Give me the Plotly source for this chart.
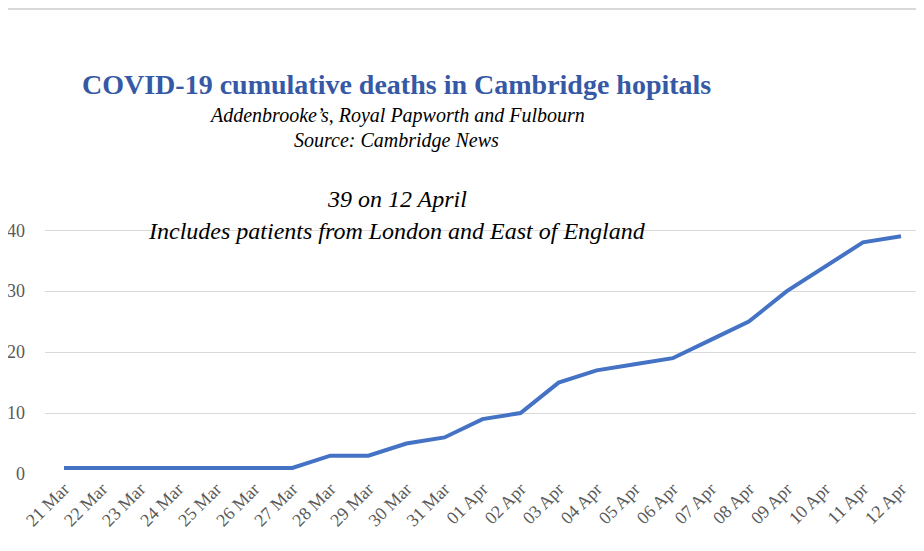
import plotly.graph_objects as go

# Cumulative COVID-19 deaths, Cambridge hospitals
dates = [
    '21 Mar', '22 Mar', '23 Mar', '24 Mar', '25 Mar', '26 Mar', '27 Mar',
    '28 Mar', '29 Mar', '30 Mar', '31 Mar', '01 Apr', '02 Apr', '03 Apr',
    '04 Apr', '05 Apr', '06 Apr', '07 Apr', '08 Apr', '09 Apr', '10 Apr',
    '11 Apr', '12 Apr',
]
deaths = [1, 1, 1, 1, 1, 1, 1, 3, 3, 5, 6, 9, 10, 15, 17, 18, 19, 22, 25, 30, 34, 38, 39]
y_ticks = [0, 10, 20, 30, 40]

SERIF = 'Liberation Serif'
GREY = '#595959'

fig = go.Figure()

fig.add_trace(go.Scatter(
    x=dates,
    y=deaths,
    mode='lines',
    line=dict(color='#4472C4', width=4),
    hovertemplate='%{x}: %{y}<extra></extra>',
))

# Header texts placed above the plot area
texts = [
    ('COVID-19 cumulative deaths in Cambridge hopitals', 1.52, 28, '#3559A5', True, False),
    ("Addenbrooke’s, Royal Papworth and Fulbourn", 1.402, 20, 'black', False, True),
    ('Source: Cambridge News', 1.301, 20, 'black', False, True),
    ('39 on 12 April', 1.074, 24, 'black', False, True),
    ('Includes patients from London and East of England', 0.949, 24, 'black', False, True),
]
for text, y, size, color, bold, italic in texts:
    fig.add_annotation(
        text=f'<b>{text}</b>' if bold else text,
        xref='paper', yref='paper',
        x=0.402, y=y,
        xanchor='center', yanchor='middle',
        showarrow=False,
        font=dict(family=SERIF, size=size, color=color,
                  style='italic' if italic else 'normal'),
    )

# thin border line at the very top
fig.add_shape(
    type='line', xref='paper', yref='paper',
    x0=-0.06, x1=1.01, y0=1.816, y1=1.816,
    line=dict(color='#D9D9D9', width=2),
)

fig.update_layout(
    width=916,
    height=543,
    margin=dict(l=37, r=4, t=210, b=77),
    plot_bgcolor='white',
    paper_bgcolor='white',
    showlegend=False,
    xaxis=dict(
        type='category',
        range=[-0.5, len(dates) - 0.5],
        showgrid=False,
        showline=False,
        tickangle=-45,
        tickfont=dict(family=SERIF, size=18, color=GREY),
        automargin=False,
    ),
    yaxis=dict(
        range=[0, 42],
        tickvals=y_ticks,
        showgrid=True,
        gridcolor='#D9D9D9',
        gridwidth=1,
        zeroline=False,
        showline=False,
        ticks='',
        ticklabelstandoff=19,
        tickfont=dict(family=SERIF, size=18, color=GREY),
        automargin=False,
    ),
)

fig.write_html('out.html')
